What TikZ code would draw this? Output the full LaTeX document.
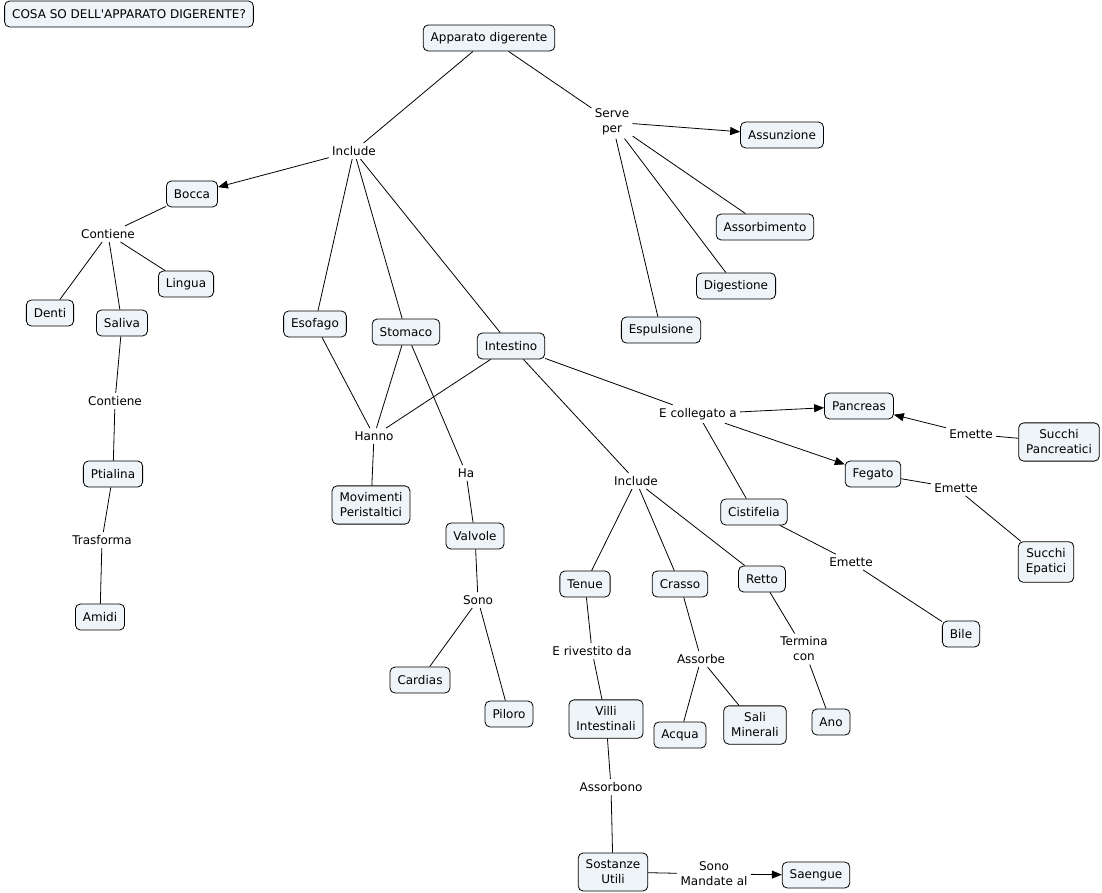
\documentclass[tikz,border=0pt]{standalone}
\usepackage{fontspec}
\setmainfont{DejaVu Sans}
\usetikzlibrary{arrows.meta}
\definecolor{boxfill}{RGB}{238,244,247}

\begin{document}
\begin{tikzpicture}[x=1pt,y=-1pt,
  cbox/.style={draw, line width=0.8pt, rounded corners=5pt, fill=boxfill, align=center,
    inner xsep=7.5pt, inner ysep=7pt, minimum height=26pt, font=\fontsize{12}{15}\selectfont},
  phrase/.style={align=center, inner sep=3pt, font=\fontsize{12}{15}\selectfont},
  arr/.style={-{Triangle[length=10pt,width=8pt]}},
  every path/.style={line width=0.8pt}]
\useasboundingbox (0,0) rectangle (1102,893);

% Title
\node[cbox] (title) at (129,14) {COSA SO DELL\textquotesingle APPARATO DIGERENTE?};

% Concepts
\node[cbox] (app) at (489,38) {Apparato digerente};
\node[cbox] (assunz) at (782,135) {Assunzione};
\node[cbox] (bocca) at (192,194) {Bocca};
\node[cbox] (assorb) at (765,227) {Assorbimento};
\node[cbox] (lingua) at (186,284) {Lingua};
\node[cbox] (digest) at (736,286) {Digestione};
\node[cbox] (denti) at (50,313) {Denti};
\node[cbox] (saliva) at (122,323) {Saliva};
\node[cbox] (esofago) at (315,324) {Esofago};
\node[cbox] (stomaco) at (406,332) {Stomaco};
\node[cbox] (espuls) at (661,330) {Espulsione};
\node[cbox] (intest) at (511,346) {Intestino};
\node[cbox] (pancreas) at (859,406) {Pancreas};
\node[cbox] (succpan) at (1059,442) {Succhi\\Pancreatici};
\node[cbox] (ptialina) at (113,474) {Ptialina};
\node[cbox] (fegato) at (873,474) {Fegato};
\node[cbox] (movim) at (371,505) {Movimenti\\Peristaltici};
\node[cbox] (valvole) at (475,536) {Valvole};
\node[cbox] (cistif) at (754,512) {Cistifelia};
\node[cbox] (succep) at (1046,562) {Succhi\\Epatici};
\node[cbox] (tenue) at (585,584) {Tenue};
\node[cbox] (crasso) at (680,584) {Crasso};
\node[cbox] (retto) at (762,579) {Retto};
\node[cbox] (amidi) at (100,617) {Amidi};
\node[cbox] (bile) at (961,634) {Bile};
\node[cbox] (cardias) at (420,680) {Cardias};
\node[cbox] (piloro) at (509,714) {Piloro};
\node[cbox] (villi) at (606,719) {Villi\\Intestinali};
\node[cbox] (acqua) at (680,735) {Acqua};
\node[cbox] (sali) at (755,725) {Sali\\Minerali};
\node[cbox] (ano) at (831,722) {Ano};
\node[cbox] (sost) at (613,872) {Sostanze\\Utili};
\node[cbox] (sangue) at (816,875) {Saengue};

% Linking phrases
\node[phrase] (incl) at (354,151) {Include};
\node[phrase] (serve) at (612,122) {Serve\\per};
\node[phrase] (cont) at (108,234) {Contiene};
\node[phrase] (cont2) at (115,401) {Contiene};
\node[phrase] (trasf) at (102,540) {Trasforma};
\node[phrase] (hanno) at (374,436) {Hanno};
\node[phrase] (ha) at (466,473) {Ha};
\node[phrase] (sono) at (478,600) {Sono};
\node[phrase] (colleg) at (698,414) {E collegato a};
\node[phrase] (emp) at (971,434) {Emette};
\node[phrase] (emf) at (956,488) {Emette};
\node[phrase] (emc) at (851,562) {Emette};
\node[phrase] (incl2) at (636,481) {Include};
\node[phrase] (rivest) at (592,651) {E rivestito da};
\node[phrase] (assorbe) at (701,659) {Assorbe};
\node[phrase] (termina) at (804,649) {Termina\\con};
\node[phrase] (assorbono) at (611,787) {Assorbono};
\node[phrase] (mandate) at (714,874) {Sono\\Mandate al};

% Connectors
\draw (app) -- (incl);
\draw[arr] (incl) -- (bocca);
\draw (incl) -- (esofago);
\draw (incl) -- (stomaco);
\draw (incl) -- (intest);
\draw (app) -- (serve);
\draw[arr] (serve) -- (assunz);
\draw (serve) -- (assorb);
\draw (serve) -- (digest);
\draw (serve) -- (espuls);
\draw (bocca) -- (cont);
\draw (cont) -- (denti);
\draw (cont) -- (saliva);
\draw (cont) -- (lingua);
\draw (saliva) -- (cont2);
\draw (cont2) -- (ptialina);
\draw (ptialina) -- (trasf);
\draw (trasf) -- (amidi);
\draw (esofago) -- (hanno);
\draw (stomaco) -- (hanno);
\draw (intest) -- (hanno);
\draw (hanno) -- (movim);
\draw (stomaco) -- (ha);
\draw (ha) -- (valvole);
\draw (valvole) -- (sono);
\draw (sono) -- (cardias);
\draw (sono) -- (piloro);
\draw (intest) -- (colleg);
\draw[arr] (colleg) -- (pancreas);
\draw[arr] (colleg) -- (fegato);
\draw (colleg) -- (cistif);
\draw (succpan) -- (emp);
\draw[arr] (emp) -- (pancreas);
\draw (fegato) -- (emf);
\draw (emf) -- (succep);
\draw (cistif) -- (emc);
\draw (emc) -- (bile);
\draw (intest) -- (incl2);
\draw (incl2) -- (tenue);
\draw (incl2) -- (crasso);
\draw (incl2) -- (retto);
\draw (tenue) -- (rivest);
\draw (rivest) -- (villi);
\draw (crasso) -- (assorbe);
\draw (assorbe) -- (acqua);
\draw (assorbe) -- (sali);
\draw (retto) -- (termina);
\draw (termina) -- (ano);
\draw (villi) -- (assorbono);
\draw (assorbono) -- (sost);
\draw (sost) -- (mandate);
\draw[arr] (mandate) -- (sangue);
\end{tikzpicture}
\end{document}
